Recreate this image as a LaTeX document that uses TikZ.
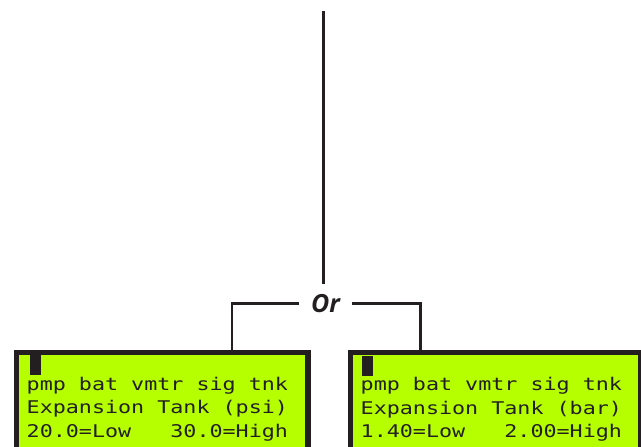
\documentclass[tikz,border=0pt]{standalone}
\usepackage{fontspec}
\newfontfamily\lcdfont[FakeStretch=1.24]{DejaVu Sans Mono}
\newfontfamily\orfont{Open Sans}
\definecolor{lcdgreen}{RGB}{181,255,0}
\definecolor{ink}{RGB}{35,31,32}
\begin{document}
\begin{tikzpicture}[x=1pt,y=-1pt,
  lcdbox/.style={draw=ink, line width=5.5pt, fill=lcdgreen, inner sep=0pt,
                 minimum width=290pt, minimum height=140pt, anchor=north west},
  lcdtext/.style={font=\lcdfont\fontsize{17.5}{20}\selectfont, text=ink,
                  anchor=base west, inner sep=0pt},
  wire/.style={draw=ink, line width=2.2pt},
  cursorblk/.style={fill=ink, draw=none},
  orlabel/.style={font=\orfont\bfseries\itshape\fontsize{25}{28}\selectfont,
                  text=ink, inner xsep=11.5pt, inner ysep=10pt}]
\clip (0,0) rectangle (641,447);
% boxes
\node[lcdbox, minimum width=291.5pt] (lbox) at (13.75,349.75) {};
\node[lcdbox, minimum width=289.75pt] (rbox) at (347.75,349.75) {};
% cursors
\fill[cursorblk] (30,355) rectangle (41,375);
\fill[cursorblk] (362,356) rectangle (373,376);
% text lines
\node[lcdtext] (l1) at (26.5,390) {pmp bat vmtr sig tnk};
\node[lcdtext] (l2) at (26.5,413.5) {Expansion Tank (psi)};
\node[lcdtext] (l3) at (26.5,437) {20.0=Low\ \ \ 30.0=High};
\node[lcdtext] (r1) at (360.5,390.5) {pmp bat vmtr sig tnk};
\node[lcdtext] (r2) at (360.5,414) {Expansion Tank (bar)};
\node[lcdtext] (r3) at (360.5,437.5) {1.40=Low\ \ \ 2.00=High};
% Or label and connectors
\node[orlabel] (or) at (325.5,303.5) {Or};
\coordinate (top) at (323.5,10.5);
\draw[wire] (top) -- (top |- or.north);
\draw[wire] (or.west) -| ([xshift=218.25pt]lbox.north west);
\draw[wire] (or.east) -| ([xshift=72.75pt]rbox.north west);
\end{tikzpicture}
\end{document}
